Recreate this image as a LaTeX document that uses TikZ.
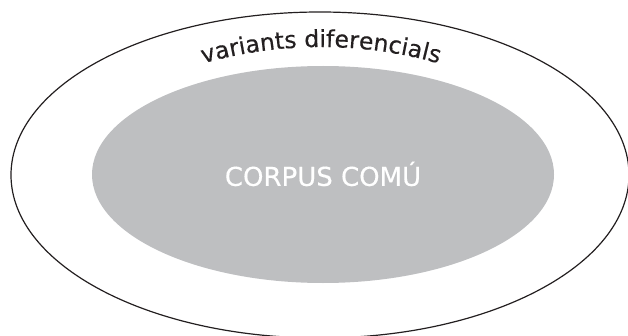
\documentclass[tikz,border=0pt]{standalone}
\usepackage{fontspec}
\setmainfont{DejaVu Sans}
% a slightly heavier cut of the same face for the labels
\newfontfamily\labelfont[BoldFont={DejaVu Sans}, BoldFeatures={FakeBold=0.4}]{DejaVu Sans}
\usetikzlibrary{shapes.geometric,decorations.text}
\definecolor{commongray}{RGB}{190,191,193}
\definecolor{inkdark}{RGB}{35,31,32}
\tikzset{
  region/.style={ellipse, inner sep=0pt, outer sep=0pt},
  outerregion/.style={region, draw=inkdark, line width=1.2pt},
  innerregion/.style={region, fill=commongray}
}
\begin{document}
\begin{tikzpicture}[x=1pt,y=1pt]
  \useasboundingbox (0,0) rectangle (628,335);
  \clip (0,0) rectangle (628,335);
  % outer set: differential variants
  \node[outerregion, minimum width=618pt, minimum height=326pt] (variants) at (320,160) {};
  % inner set: common corpus
  \node[innerregion, minimum width=462pt, minimum height=217pt] (common) at (323,160.5) {};
  \node[font=\labelfont\bfseries\fontsize{26}{26}\selectfont, text=white] (commonlabel) at (323,161) {CORPUS COMÚ};
  % curved label of the outer set
  \coordinate (arccentre) at (321,-142);
  \path[decorate, decoration={text along path, text align=center,
      text={|\labelfont\bfseries\fontsize{23.5}{23.5}\selectfont\color{inkdark}|variants diferencials}}]
    ([shift={(108:430)}]arccentre) arc[start angle=108, end angle=72, radius=430];
\end{tikzpicture}
\end{document}
